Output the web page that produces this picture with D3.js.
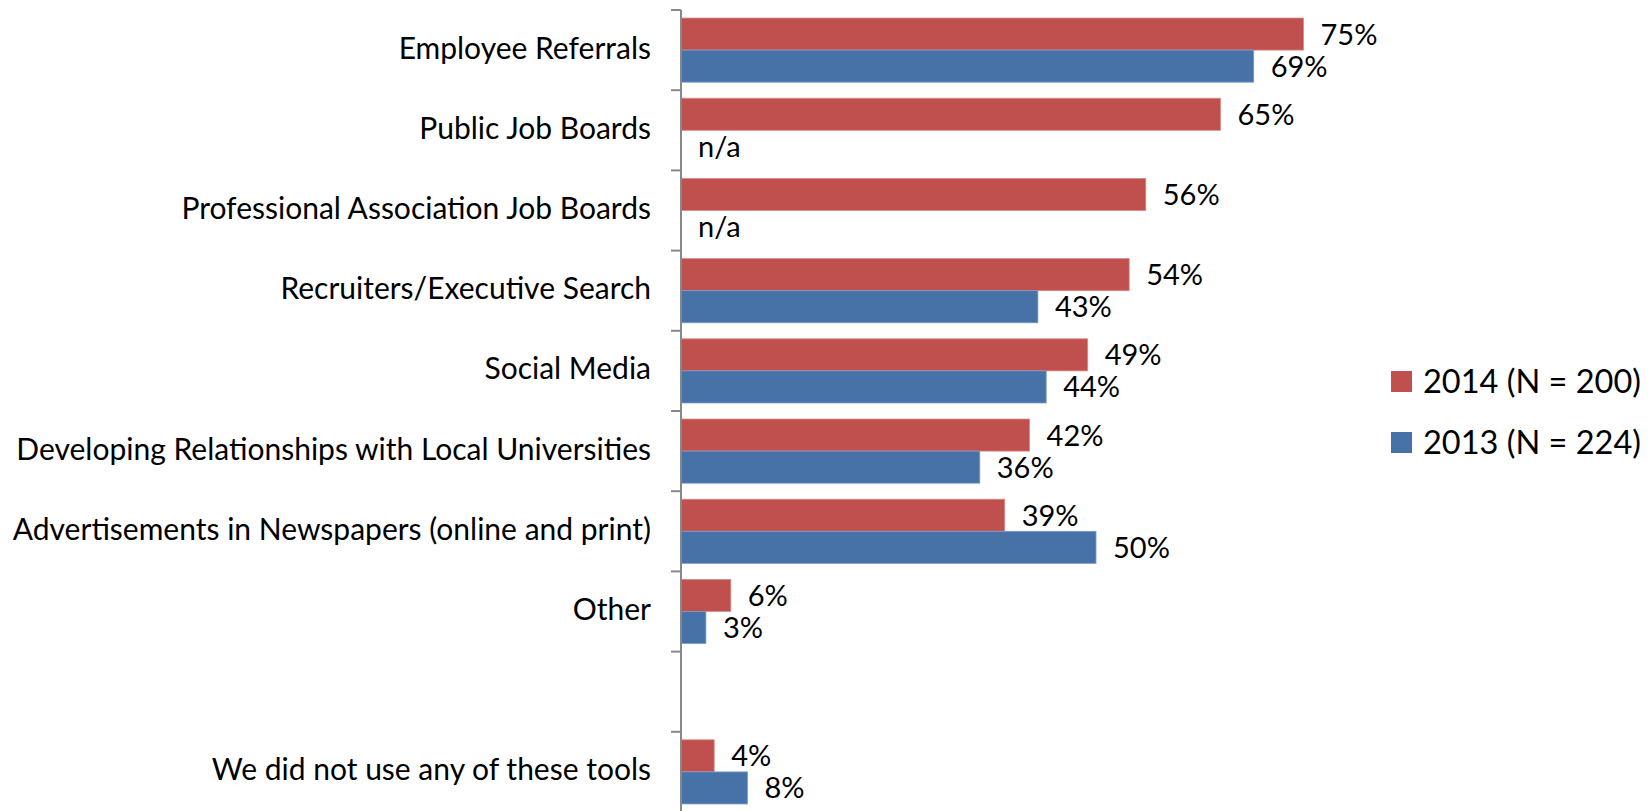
<!DOCTYPE html>
<html>
<head>
<meta charset="utf-8">
<script src="https://cdn.jsdelivr.net/npm/d3@7"></script>
<style>
  html, body { margin: 0; padding: 0; background: #fff; }
  svg { display: block; }
  text { font-family: Lato, "Open Sans", sans-serif; fill: #000; }
</style>
</head>
<body>
<svg id="chart" width="1649" height="811"></svg>
<script>
// Recruiting tools used, share of respondents (%)
const categories = [
  "Employee Referrals",
  "Public Job Boards",
  "Professional Association Job Boards",
  "Recruiters/Executive Search",
  "Social Media",
  "Developing Relationships with Local Universities",
  "Advertisements in Newspapers (online and print)",
  "Other",
  "",
  "We did not use any of these tools"
];
const values2014 = [75, 65, 56, 54, 49, 42, 39, 6, null, 4];
const values2013 = [69, null, null, 43, 44, 36, 50, 3, null, 8];
const seriesNames = ["2014 (N = 200)", "2013 (N = 224)"];
const seriesColors = ["#C0504D", "#4672A7"];
const missingLabel = "n/a";

const svg = d3.select("#chart");
const valueFont = 29;
const labelFont = 30;
const legendFont = 32.5;

const axisX = 681;
const y = d3.scaleBand()
  .domain(categories.map((c, i) => i))
  .range([10, 812])
  .paddingInner(0.2)
  .paddingOuter(0.1);
const yOuter = d3.scaleBand()
  .domain(categories.map((c, i) => i))
  .range([10, 812]);
const x = d3.scaleLinear().domain([0, 100]).range([axisX, axisX + 830]);
const ySeries = d3.scaleBand().domain([0, 1]).range([0, y.bandwidth()]);

const rows = categories.map((c, i) => ({ i, c, vals: [values2014[i], values2013[i]] }));

// bars and value labels
const groups = svg.append("g").selectAll("g")
  .data(rows)
  .join("g")
  .attr("transform", d => `translate(0,${y(d.i)})`);

groups.each(function (d) {
  const g = d3.select(this);
  if (d.c === "") return;
  d.vals.forEach((v, s) => {
    if (v != null) {
      g.append("rect")
        .attr("x", x(0))
        .attr("y", ySeries(s))
        .attr("width", x(v) - x(0))
        .attr("height", ySeries.bandwidth())
        .attr("fill", seriesColors[s])
        .attr("stroke", s === 0 ? "#D98A88" : "#7E9CC6")
        .attr("stroke-width", 0.8);
    }
    g.append("text")
      .attr("x", x(v == null ? 0 : v) + 17)
      .attr("y", ySeries(s) + ySeries.bandwidth() / 2)
      .attr("dy", "0.36em")
      .attr("font-size", valueFont)
      .text(v == null ? missingLabel : v + "%");
  });
});

// category axis line with tick marks at band boundaries
const axisG = svg.append("g").attr("transform", `translate(${axisX},0)`);
const boundaries = d3.range(categories.length + 1).map(k => 10 + k * yOuter.step());
axisG.selectAll("line.b")
  .data(boundaries)
  .join("line")
  .attr("class", "b")
  .attr("x1", -10).attr("x2", 0)
  .attr("y1", d => d).attr("y2", d => d)
  .attr("stroke", "#888").attr("stroke-width", 2);
axisG.append("line")
  .attr("x1", 0).attr("x2", 0)
  .attr("y1", 10).attr("y2", 812)
  .attr("stroke", "#888").attr("stroke-width", 2);

// category labels
svg.append("g").selectAll("text")
  .data(rows)
  .join("text")
  .attr("x", 651)
  .attr("y", d => yOuter(d.i) + yOuter.bandwidth() / 2)
  .attr("dy", "0.28em")
  .attr("text-anchor", "end")
  .attr("font-size", labelFont)
  .text(d => d.c);

// legend
const legend = svg.append("g").attr("transform", "translate(1391,371)");
seriesNames.forEach((name, s) => {
  const lg = legend.append("g").attr("transform", `translate(0,${s * 61})`);
  lg.append("rect").attr("width", 21).attr("height", 21).attr("fill", seriesColors[s]);
  lg.append("text")
    .attr("x", 32).attr("y", 22)
    .attr("font-size", legendFont)
    .text(name);
});
</script>
</body>
</html>
